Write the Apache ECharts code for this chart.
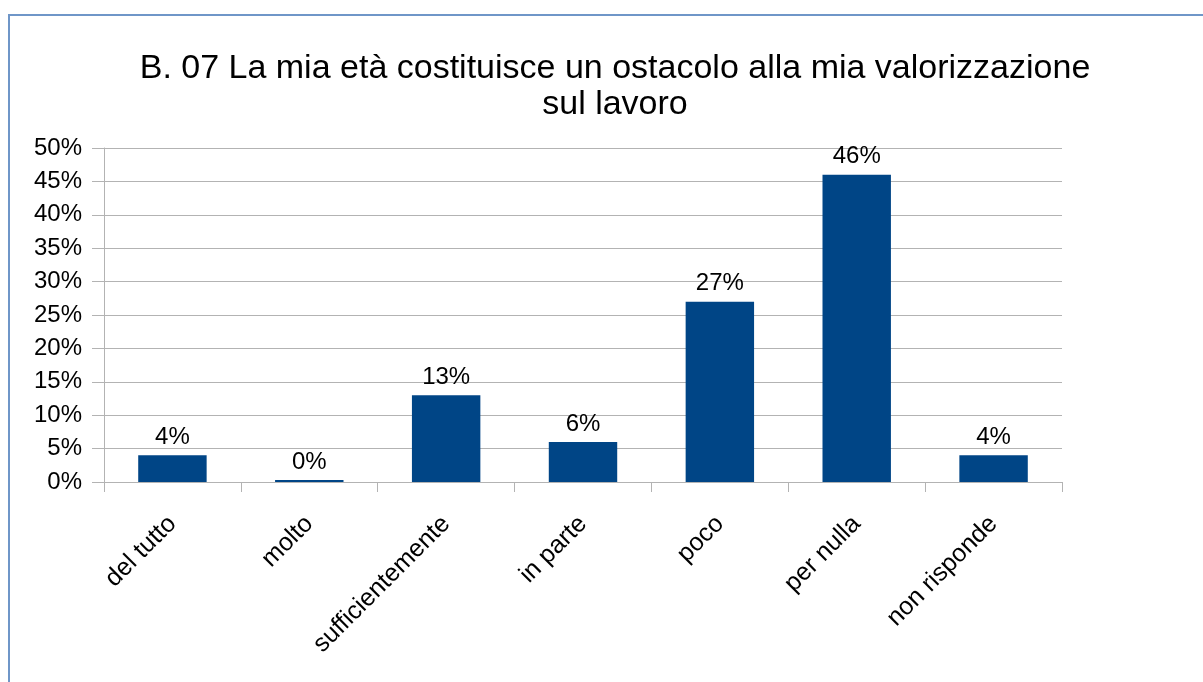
<!DOCTYPE html>
<html>
<head>
<meta charset="utf-8">
<script src="https://cdn.jsdelivr.net/npm/echarts@6/dist/echarts.min.js"></script>
<style>
  html, body { margin: 0; padding: 0; background: #fff; }
  #chart { width: 1203px; height: 682px; }
</style>
</head>
<body>
<div id="chart"></div>
<script>
// categorie e valori (percentuali)
const categories = ['del tutto', 'molto', 'sufficientemente', 'in parte', 'poco', 'per nulla', 'non risponde'];
const values = [4, 0, 13, 6, 27, 46, 4];
const yTicks = [0, 5, 10, 15, 20, 25, 30, 35, 40, 45, 50];

const chart = echarts.init(document.getElementById('chart'));

let option = {
  animation: false,
  textStyle: { fontFamily: 'Liberation Sans' },
  title: {
    text: 'B. 07 La mia età costituisce un ostacolo alla mia valorizzazione\nsul lavoro',
    left: 610,
    top: 46,
    textAlign: 'center',
    textStyle: {
      color: '#000',
      fontSize: 34,
      fontWeight: 'normal',
      lineHeight: 36,
      fontFamily: 'Liberation Sans'
    }
  },
  graphic: [
    {
      type: 'rect',
      shape: { x: 9, y: 15, width: 1300, height: 800 },
      style: { fill: 'none', stroke: '#6f96c8', lineWidth: 2 },
      silent: true
    }
  ],
  grid: {
    left: 104,
    right: 141,
    top: 148,
    bottom: 200
  },
  xAxis: {
    type: 'category',
    data: categories,
    axisLine: { lineStyle: { color: '#b3b3b3', width: 1 } },
    axisTick: { show: true, length: 10, lineStyle: { color: '#b3b3b3' } },
    axisLabel: {
      rotate: 45,
      interval: 0,
      margin: 38,
      fontSize: 25,
      color: '#000',
      fontFamily: 'Liberation Sans'
    }
  },
  yAxis: {
    type: 'value',
    min: yTicks[0],
    max: yTicks[yTicks.length - 1],
    interval: 5,
    axisLine: { show: true, lineStyle: { color: '#b3b3b3' } },
    axisTick: { show: true, length: 12, lineStyle: { color: '#b3b3b3' } },
    splitLine: { lineStyle: { color: '#b3b3b3', width: 1 } },
    axisLabel: {
      margin: 22,
      fontSize: 24,
      color: '#000',
      fontFamily: 'Liberation Sans',
      formatter: '{value}%'
    }
  },
  series: [
    {
      type: 'bar',
      data: values,
      barWidth: '50%',
      barMinHeight: 2,
      itemStyle: { color: '#004586' },
      label: {
        show: true,
        position: 'top',
        distance: 6,
        fontSize: 24,
        color: '#000',
        fontFamily: 'Liberation Sans',
        formatter: '{c}%'
      }
    }
  ]
};

chart.setOption(option);
</script>
</body>
</html>
